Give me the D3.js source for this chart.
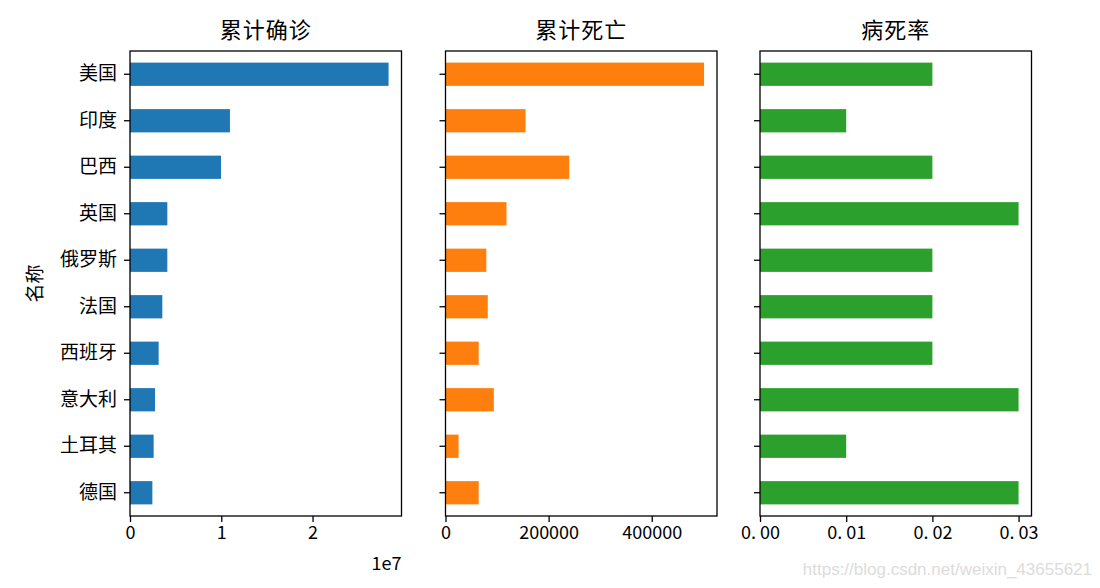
<!DOCTYPE html>
<html>
<head>
<meta charset="utf-8">
<script src="https://cdn.jsdelivr.net/npm/d3@7"></script>
<style>
	body { margin: 0; background: #fff; }
	svg text { font-family: "Noto Sans CJK SC", sans-serif; fill: #000; }
</style>
</head>
<body>
<div id="chart"></div>
<script>
// data
let names = ["美国", "印度", "巴西", "英国", "俄罗斯", "法国", "西班牙", "意大利", "土耳其", "德国"];
let confirmed = [28330000, 10950000, 9970000, 4090000, 4090000, 3540000, 3140000, 2740000, 2590000, 2450000];
let deaths = [501500, 155300, 240000, 118300, 79200, 82000, 64400, 93700, 25400, 64400];
let rate = [0.02, 0.01, 0.02, 0.03, 0.02, 0.02, 0.02, 0.03, 0.01, 0.03];
let titles = ["累计确诊", "累计死亡", "病死率"];
let colors = ["#1f77b4", "#ff7f0e", "#2ca02c"];
let tickVals = [[0, 1e7, 2e7], [0, 200000, 400000], [0, 0.01, 0.02, 0.03]];

var width = 1100, height = 588;
var plotTop = 51, plotBottom = 516;
var panelW = 271.5;
var lefts = [130, 445.5, 760];

var svg = d3.select("#chart").append("svg")
	.attr("width", width)
	.attr("height", height);

var yScale = d3.scaleBand()
	.domain(names)
	.range([plotTop, plotBottom])
	.paddingInner(0.5)
	.paddingOuter(0.25);

var series = [confirmed, deaths, rate];

series.forEach(function(vals, i) {
	var x0 = lefts[i];
	var xScale = d3.scaleLinear()
		.domain([0, d3.max(vals) * 1.05])
		.range([x0, x0 + panelW]);

	var g = svg.append("g");

	g.selectAll("rect.bar")
		.data(vals)
		.enter()
		.append("rect")
		.attr("class", "bar")
		.attr("x", xScale(0))
		.attr("y", function(d, j) { return yScale(names[j]); })
		.attr("width", function(d) { return xScale(d) - xScale(0); })
		.attr("height", yScale.bandwidth())
		.attr("fill", colors[i]);

	// frame
	g.append("rect")
		.attr("x", x0)
		.attr("y", plotTop)
		.attr("width", panelW)
		.attr("height", plotBottom - plotTop)
		.attr("fill", "none")
		.attr("stroke", "#000")
		.attr("stroke-width", 1.3);

	var xAxis = d3.axisBottom(xScale)
		.tickValues(tickVals[i])
		.tickSize(6)
		.tickPadding(4)
		.tickFormat(function(d) {
			if (i == 0) return d / 1e7;
			if (i == 1) return d;
			return d.toFixed(2);
		});
	var xg = g.append("g")
		.attr("transform", "translate(0," + plotBottom + ")")
		.call(xAxis);

	var yAxis = d3.axisLeft(yScale)
		.tickSize(6)
		.tickPadding(7)
		.tickFormat(i == 0 ? null : "");
	var yg = g.append("g")
		.attr("transform", "translate(" + x0 + ",0)")
		.call(yAxis);

	[xg, yg].forEach(function(ax) {
		ax.select(".domain").remove();
		ax.selectAll(".tick line").attr("stroke", "#000").attr("stroke-width", 1.3);
		ax.selectAll(".tick text").attr("font-size", 18).attr("font-family", null);
	});
	yg.selectAll(".tick text").attr("font-size", 19);

	// SimHei leaves a gap after the decimal point
	if (i == 2) {
		xg.selectAll(".tick text").each(function(d) {
			var s = d.toFixed(2).split(".");
			var t = d3.select(this).text("");
			t.append("tspan").text(s[0] + ".");
			t.append("tspan").attr("dx", 4).text(s[1]);
		});
	}

	g.append("text")
		.attr("x", x0 + panelW / 2)
		.attr("y", 38)
		.attr("text-anchor", "middle")
		.attr("font-size", 22)
		.attr("letter-spacing", 1)
		.text(titles[i]);
});

// offset text for the first panel
svg.append("text")
	.attr("x", lefts[0] + panelW)
	.attr("y", 570)
	.attr("text-anchor", "end")
	.attr("font-size", 18)
	.text("1e7");

// y label
svg.append("text")
	.attr("transform", "translate(42," + ((plotTop + plotBottom) / 2) + ") rotate(-90)")
	.attr("text-anchor", "middle")
	.attr("font-size", 19)
	.text("名称");

// watermark
svg.append("text")
	.attr("x", 1092)
	.attr("y", 575)
	.attr("text-anchor", "end")
	.attr("font-size", 17)
	.style("font-family", "Arial, 'Liberation Sans', sans-serif")
	.style("fill", "#dcdcdc")
	.text("https://blog.csdn.net/weixin_43655621");
</script>
</body>
</html>
